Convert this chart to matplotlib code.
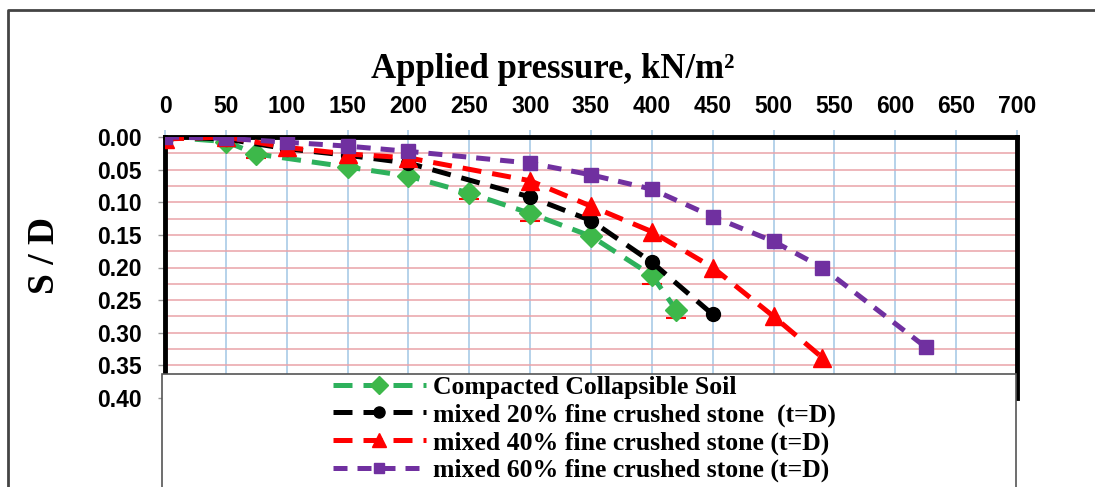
import matplotlib
matplotlib.use("Agg")
import matplotlib.pyplot as plt
from matplotlib.patches import Rectangle
from matplotlib.lines import Line2D
from matplotlib.ticker import MultipleLocator

# Load-settlement data: applied pressure (kN/m2) vs. S/D
pressure_soil = [0, 50, 75, 150, 200, 250, 300, 350, 400, 420]
sd_soil = [0.0, 0.007, 0.026, 0.046, 0.060, 0.086, 0.117, 0.152, 0.212, 0.265]
err_soil = [0.0, 0.0, 0.006, 0.0, 0.0, 0.009, 0.011, 0.0, 0.014, 0.013]

pressure_20 = [0, 50, 100, 150, 200, 300, 350, 400, 450]
sd_20 = [0.0, 0.003, 0.018, 0.028, 0.040, 0.092, 0.128, 0.192, 0.272]

pressure_40 = [0, 50, 100, 150, 200, 300, 350, 400, 450, 500, 540]
sd_40 = [0.003, 0.0, 0.016, 0.026, 0.032, 0.067, 0.106, 0.145, 0.200, 0.275, 0.338]

pressure_60 = [0, 50, 100, 150, 200, 300, 350, 400, 450, 500, 540, 625]
sd_60 = [0.0, 0.002, 0.008, 0.014, 0.022, 0.040, 0.058, 0.080, 0.122, 0.160, 0.200, 0.322]

labels = [
    "Compacted Collapsible Soil",
    "mixed 20% fine crushed stone  (t=D)",
    "mixed 40% fine crushed stone (t=D)",
    "mixed 60% fine crushed stone (t=D)",
]
x_ticks = list(range(0, 701, 50))
y_ticks = [0.00, 0.05, 0.10, 0.15, 0.20, 0.25, 0.30, 0.35, 0.40]

SERIF = "Liberation Serif"
SANS = "Liberation Sans"

W, H = 1095, 487
fig = plt.figure(figsize=(W / 100, H / 100), dpi=100)
fig.patch.set_facecolor("white")

ax = fig.add_axes([165 / W, 1 - 398 / H, (1017 - 165) / W, (398 - 137) / H])

green = "#2EB15C"
green_mk = "#3DB84A"
black = "#000000"
red = "#FF0000"
purple = "#7030A0"

lw = 3.6
dash = (0, (3.8, 2.2))
ax.errorbar(pressure_soil, sd_soil, yerr=[[0] * len(err_soil), err_soil],
            fmt="none", ecolor=red, elinewidth=0, capsize=7, capthick=1.5, zorder=2)
ax.plot(pressure_soil, sd_soil, linestyle=dash, color=green, lw=lw,
        marker="D", markersize=11, markerfacecolor=green_mk, markeredgecolor=green_mk,
        zorder=3, label=labels[0])
ax.plot(pressure_20, sd_20, linestyle=dash, color=black, lw=lw,
        marker="o", markersize=10, markerfacecolor=black, markeredgecolor=black,
        zorder=3, label=labels[1])
ax.plot(pressure_40, sd_40, linestyle=dash, color=red, lw=lw,
        marker="^", markersize=12.5, markerfacecolor=red, markeredgecolor=red,
        zorder=3, label=labels[2])
ax.plot(pressure_60, sd_60, linestyle=(0, (2.8, 2.0)), color=purple, lw=lw,
        marker="s", markersize=9.5, markerfacecolor=purple, markeredgecolor=purple,
        zorder=3, label=labels[3])

ax.set_xlim(0, 700)
ax.set_ylim(0.40, 0.0)
ax.xaxis.tick_top()
ax.set_xticks(x_ticks)
ax.set_xticklabels([str(v) for v in x_ticks])
ax.set_yticks(y_ticks)
ax.set_yticklabels([f"{v:.2f}" for v in y_ticks])
ax.yaxis.set_minor_locator(MultipleLocator(0.025))

ax.grid(axis="x", which="major", color="#A9CBE6", lw=1.2, zorder=0)
ax.grid(axis="y", which="both", color="#E9A3A8", lw=1.1, zorder=0)
ax.tick_params(axis="y", which="minor", length=0)
ax.tick_params(axis="x", which="major", direction="out", length=5, color="#A9CBE6",
               width=1.2, pad=9)
ax.tick_params(axis="y", which="major", direction="out", length=5, color="#999999",
               width=1, pad=12)
for lab in ax.get_xticklabels() + ax.get_yticklabels():
    lab.set_fontfamily(SANS)
    lab.set_fontweight("bold")
    lab.set_fontsize(16.5)

for side in ("top", "left", "right"):
    ax.spines[side].set_linewidth(3.5)
    ax.spines[side].set_color("black")
ax.spines["bottom"].set_visible(False)

# Legend panel over the lower part of the plot
panel = Rectangle((162 / W, -0.05), (1016 - 162) / W, 0.05 + (1 - 374 / H),
                  transform=fig.transFigure, facecolor="white", edgecolor="#555555",
                  lw=1.2, zorder=5)
fig.patches.append(panel)

handles, hl = ax.get_legend_handles_labels()
leg = fig.legend(handles, hl, loc="upper left",
                 bbox_to_anchor=(333 / W, 1 - 376 / H),
                 frameon=False, handlelength=3.6, handletextpad=0.3,
                 labelspacing=0.17, borderaxespad=0, borderpad=0, markerscale=0.8,
                 prop={"family": SERIF, "weight": "bold", "size": 18.5})
leg.set_zorder(6)

fig.text(553 / W, 1 - 70 / H, "Applied pressure, kN/m\u00b2",
         ha="center", va="center", fontfamily=SERIF, fontweight="bold", fontsize=25)
fig.text(45 / W, 1 - 255 / H, "S / D", rotation=90, ha="center", va="center",
         fontfamily=SERIF, fontweight="bold", fontsize=27)

# Outer frame
fig.add_artist(Line2D([8 / W, 8 / W, 1.0], [0, 1 - 10 / H, 1 - 10 / H],
                      transform=fig.transFigure, color="#444444", lw=2))

fig.savefig("out.png", dpi=100)
